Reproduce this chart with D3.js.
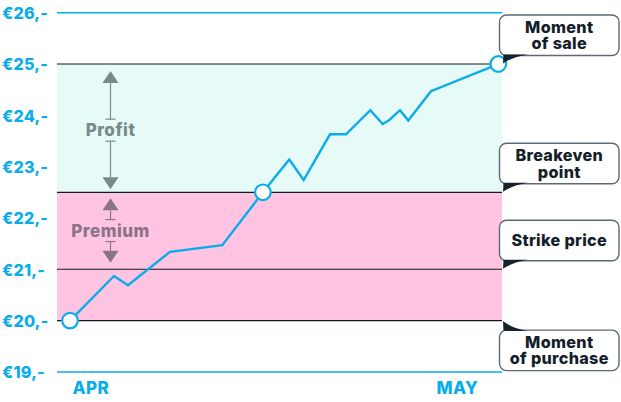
<!DOCTYPE html>
<html><head><meta charset="utf-8">
<script src="https://cdn.jsdelivr.net/npm/d3@7"></script>
<style>
html,body{margin:0;padding:0;background:#fff;}
svg{display:block;font-family:Inter,"Noto Sans",sans-serif;}
</style></head>
<body><svg id="c" width="621" height="402"></svg>
<script>
// ---- data ----
const priceTicks = [26, 25, 24, 23, 22, 21, 20, 19];
const tickFormat = v => "€" + v + ",-";
// day offsets from 1 April, price in €
const days   = [0, 3.63, 4.78, 8.24, 12.55, 15.9, 18.07, 19.26, 21.43, 22.75, 24.75, 25.77, 26.32, 27.2, 27.88, 29.75, 35.3];
const prices = [20, 20.87, 20.69, 21.34, 21.47, 22.5, 23.14, 22.74, 23.63, 23.63, 24.1, 23.83, 23.91, 24.1, 23.9, 24.47, 25];
const markerIdx = [0, 5, 16];
const monthLabels = ["APR", "MAY"];
const monthDays = [0, 30];
const purchasePrice = 20, strikePrice = 21, breakeven = 22.5, salePrice = 25;
const calloutText = [["Moment", "of sale"], ["Breakeven", "point"], ["Strike price"], ["Moment", "of purchase"]];
const calloutValue = [salePrice, breakeven, strikePrice, purchasePrice];
const calloutBelow = [false, false, false, true];

// ---- layout ----
const W = 621, H = 402;
const plotL = 57, plotR = 502;
const svg = d3.select("#c");
const y = d3.scaleLinear().domain([19, 26]).range([371.9, 12.7]);
const x = d3.scaleLinear().domain([0, 35.3]).range([70, 498.3]);
const cyan = "#0AADEA";

// bands
svg.append("rect").attr("x", plotL).attr("width", plotR - plotL)
  .attr("y", y(salePrice)).attr("height", y(breakeven) - y(salePrice)).attr("fill", "#E6FAF8");
svg.append("rect").attr("x", plotL).attr("width", plotR - plotL)
  .attr("y", y(breakeven)).attr("height", y(purchasePrice) - y(breakeven)).attr("fill", "#FFC4E1");

// y axis labels
const yAxis = d3.axisLeft(y).tickValues(priceTicks).tickFormat(tickFormat).tickSize(0).tickPadding(0);
const yg = svg.append("g").attr("transform", "translate(2,0)").call(yAxis);
yg.select(".domain").remove();
yg.selectAll("text").attr("text-anchor", "start").attr("x", 0).attr("dy", "0.36em")
  .attr("fill", cyan).attr("font-size", 16.2).attr("font-weight", 800).attr("letter-spacing", 0.2)
  .attr("font-family", "Inter,sans-serif");

// frame lines
[26, 19].forEach(v => svg.append("line").attr("x1", plotL).attr("x2", plotR)
  .attr("y1", y(v)).attr("y2", y(v)).attr("stroke", cyan).attr("stroke-width", 1.5));
[salePrice, breakeven, strikePrice, purchasePrice].forEach(v => svg.append("line").attr("x1", plotL).attr("x2", plotR)
  .attr("y1", y(v)).attr("y2", y(v)).attr("stroke", "#111a22").attr("stroke-width", 1.2));

// x axis labels
const xAxis = d3.axisBottom(x).tickValues(monthDays).tickFormat((d, i) => monthLabels[i]).tickSize(0).tickPadding(0);
const xg = svg.append("g").attr("transform", "translate(0,388)").call(xAxis);
xg.select(".domain").remove();
xg.selectAll("text").attr("text-anchor", "start").attr("dx", 2).attr("y", 0).attr("dy", "0.36em")
  .attr("fill", cyan).attr("font-size", 17).attr("font-weight", 800).attr("letter-spacing", 0.4)
  .attr("font-family", "Inter,sans-serif");

// annotation arrows
function arrowPair(top, bottom, label, color, ax) {
  const g = svg.append("g");
  const mid = (top + bottom) / 2;
  const gap = 11, head = 12, hw = 8;
  g.append("path").attr("d", `M${ax},${top} L${ax - hw},${top + head} L${ax + hw},${top + head} Z`).attr("fill", color);
  g.append("line").attr("x1", ax).attr("x2", ax).attr("y1", top + head).attr("y2", mid - gap).attr("stroke", color).attr("stroke-width", 1.2);
  g.append("line").attr("x1", ax - 5).attr("x2", ax + 5).attr("y1", mid - gap).attr("y2", mid - gap).attr("stroke", color).attr("stroke-width", 1.2);
  g.append("path").attr("d", `M${ax},${bottom} L${ax - hw},${bottom - head} L${ax + hw},${bottom - head} Z`).attr("fill", color);
  g.append("line").attr("x1", ax).attr("x2", ax).attr("y1", bottom - head).attr("y2", mid + gap).attr("stroke", color).attr("stroke-width", 1.2);
  g.append("line").attr("x1", ax - 5).attr("x2", ax + 5).attr("y1", mid + gap).attr("y2", mid + gap).attr("stroke", color).attr("stroke-width", 1.2);
  g.append("text").attr("x", ax).attr("y", mid).attr("dy", "0.36em").attr("text-anchor", "middle")
    .attr("fill", color).attr("font-size", 17).attr("font-weight", 800).attr("letter-spacing", 0.5).text(label);
}
arrowPair(y(salePrice) + 7, y(breakeven) - 3, "Profit", "#788A8A", 110.5);
arrowPair(y(breakeven) + 6, y(strikePrice) - 6.5, "Premium", "#8A7486", 110.5);

// price line
const line = d3.line().x((d, i) => x(days[i])).y(d => y(d));
svg.append("path").datum(prices).attr("d", line).attr("fill", "none")
  .attr("stroke", cyan).attr("stroke-width", 2.4).attr("stroke-linejoin", "miter");
svg.selectAll("circle.m").data(markerIdx).enter().append("circle")
  .attr("cx", i => x(days[i])).attr("cy", i => y(prices[i])).attr("r", 7.8)
  .attr("fill", "#fff").attr("stroke", cyan).attr("stroke-width", 2.2);

// callouts
const bx = 499.5, bw = 119.5, lh = 16.6;
calloutText.forEach((lines, k) => {
  const tip = y(calloutValue[k]);
  const bh = 40.5;
  const g = svg.append("g");
  let top, ptr;
  if (!calloutBelow[k]) {
    top = tip - 8.5 - bh;
    const b = top + bh;
    ptr = `M${bx + 4},${b - 1} L${bx + 28},${b - 1} Q${bx + 12},${b + 2} ${bx + 3.5},${tip - 0.5} Z`;
  } else {
    top = tip + 9.5;
    ptr = `M${bx + 4},${top + 1} L${bx + 28},${top + 1} Q${bx + 12},${top - 2} ${bx + 3.5},${tip + 0.5} Z`;
  }
  g.append("rect").attr("x", bx).attr("y", top).attr("width", bw).attr("height", bh).attr("rx", 7)
    .attr("fill", "#fff").attr("stroke", "#5E6A72").attr("stroke-width", 1.4);
  g.append("path").attr("d", ptr).attr("fill", "#16222C");
  const cy = top + bh / 2;
  const txt = g.append("text").attr("text-anchor", "middle").attr("fill", "#13202A")
    .attr("font-size", 16.2).attr("font-weight", 800).attr("letter-spacing", 0.3);
  lines.forEach((t, j) => {
    txt.append("tspan").attr("x", bx + bw / 2).attr("y", cy + (j - (lines.length - 1) / 2) * lh)
      .attr("dy", "0.36em").text(t);
  });
});
</script></body></html>
